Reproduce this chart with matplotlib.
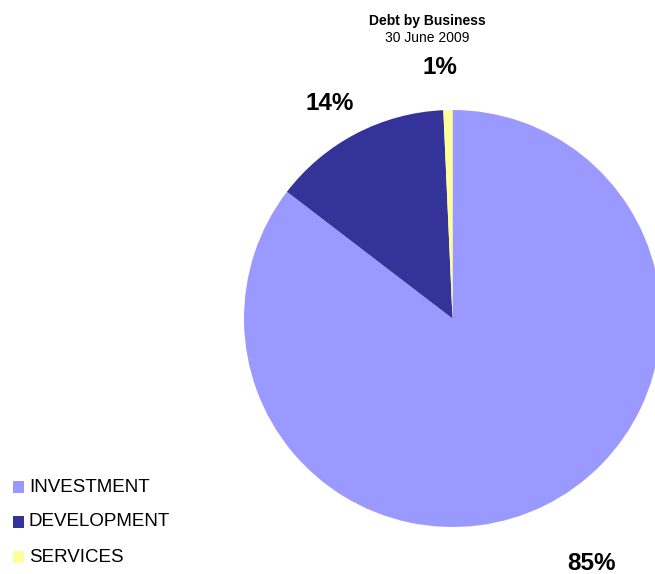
import matplotlib.pyplot as plt
from matplotlib.patches import Rectangle

plt.rcParams["font.family"] = ["Liberation Sans", "DejaVu Sans"]

# Debt split by business, 30 June 2009 (percent)
segments = ["INVESTMENT", "DEVELOPMENT", "SERVICES"]
shares = [85.4, 13.9, 0.7]
colors = ["#9999FF", "#333399", "#FFFF99"]

# where each percentage label sits (pixel-style coordinates, y up)
label_pos = [(591, 11), (330, 470), (440, 506)]

fig = plt.figure(figsize=(6.55, 5.74), dpi=100)
ax = fig.add_axes([0, 0, 1, 1])

ax.pie(shares, colors=colors, startangle=90, counterclock=False,
       center=(452.5, 255.5), radius=208.5, frame=True,
       wedgeprops=dict(linewidth=0))
ax.set_xlim(0, 655)
ax.set_ylim(0, 574)
ax.set_aspect("equal")
ax.axis("off")

for (x, y), v in zip(label_pos, shares):
    ax.text(x, y, f"{round(v)}%", ha="center", va="center",
            fontsize=17.5, fontweight="bold")

ax.text(427.5, 553, "Debt by Business", ha="center", va="center",
        fontsize=10, fontweight="bold")
ax.text(427.5, 535.5, "30 June 2009", ha="center", va="center", fontsize=10)

# legend down the left side
for i, (name, c) in enumerate(zip(segments, colors)):
    y = 87 - i * 35
    ax.add_patch(Rectangle((12.5, y - 6), 11, 12, color=c, lw=0))
    ax.text(29, y, name, ha="left", va="center", fontsize=13.5)

plt.savefig("out.png", dpi=100)
